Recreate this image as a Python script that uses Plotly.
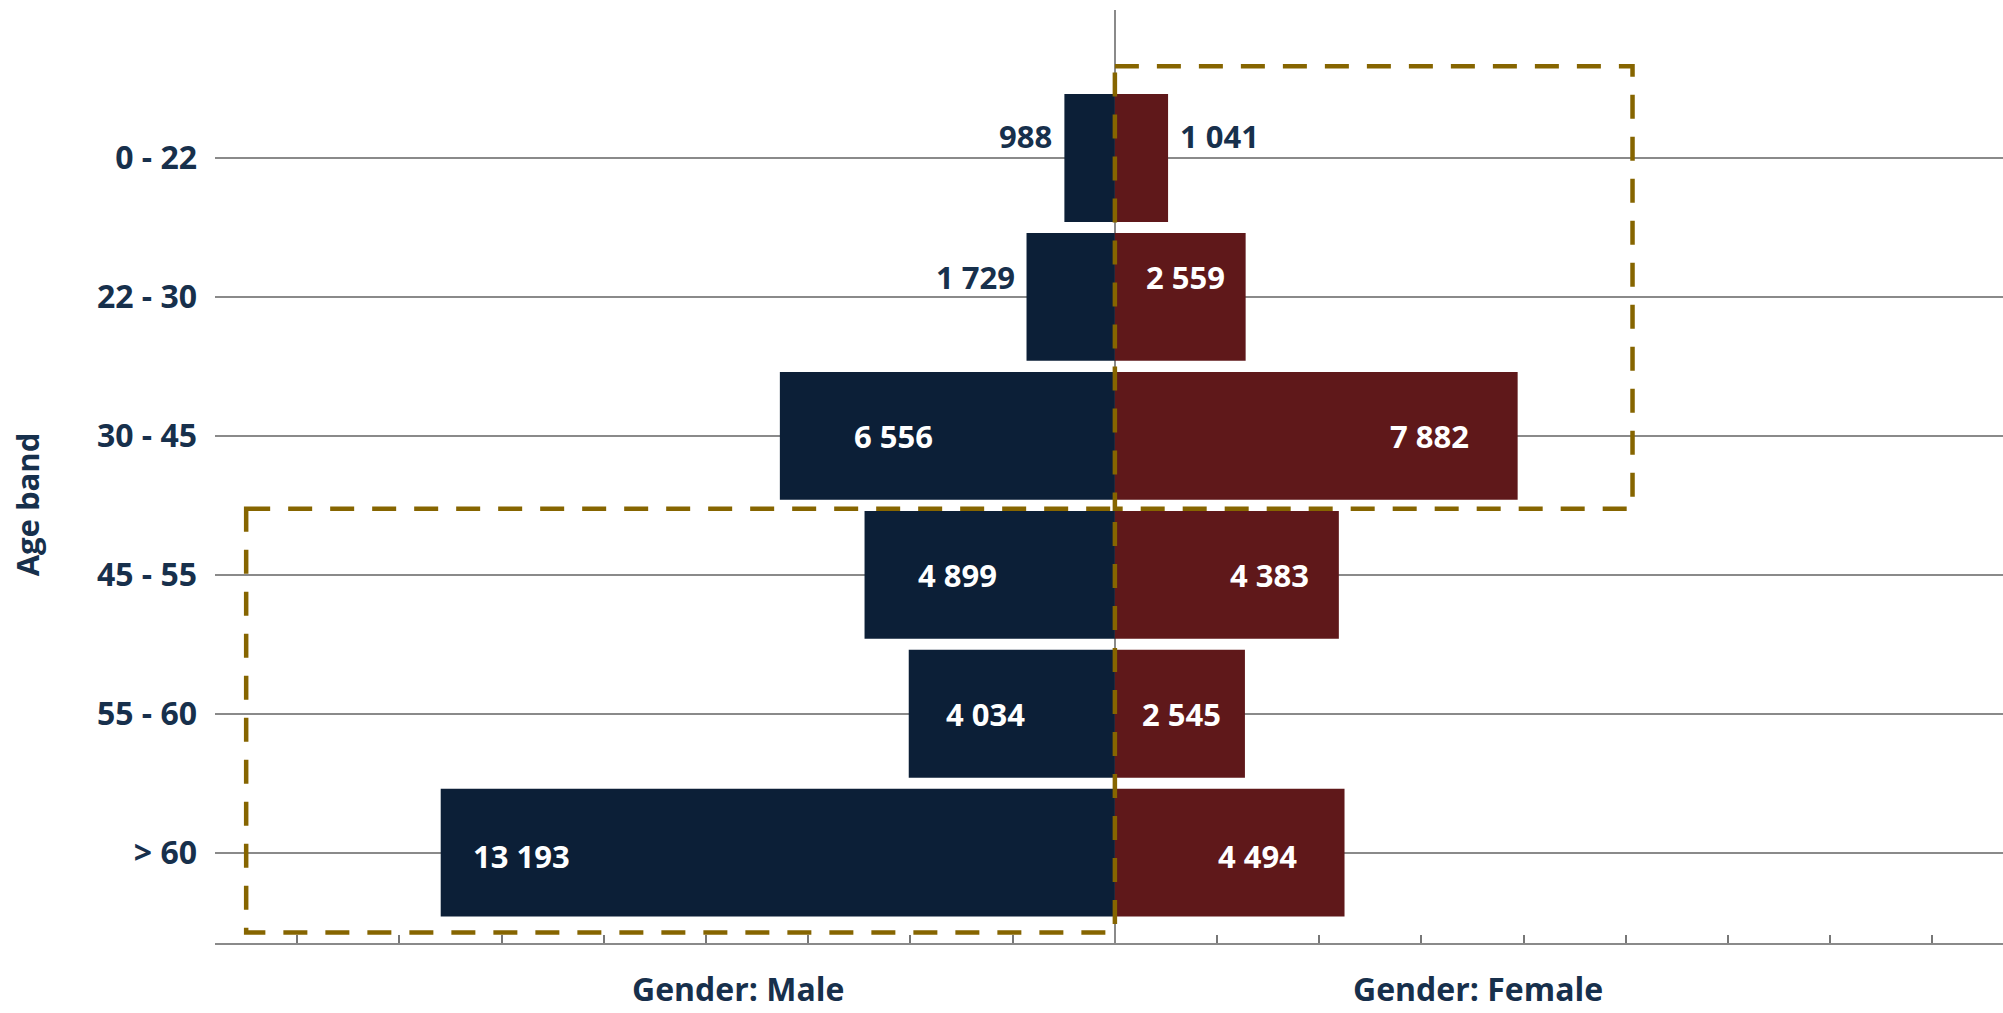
import plotly.graph_objects as go

# Headcount by age band and gender
age_bands = ["0 - 22", "22 - 30", "30 - 45", "45 - 55", "55 - 60", "> 60"]
male = [988, 1729, 6556, 4899, 4034, 13193]
female = [1041, 2559, 7882, 4383, 2545, 4494]

# Styling
NAVY = "#0C1F37"
MAROON = "#5F181A"
TEXT = "#17304C"
GOLD = "#866500"
GRID = "#8A8A8A"
FONT = "Open Sans"

# Where each value label sits along its bar: None = just outside the bar tip,
# otherwise a fraction of the bar length (inside, white text)
male_label_pos = [None, None, 0.66, 0.63, 0.63, 0.88]
female_label_pos = [None, 0.54, 0.78, 0.69, 0.51, 0.62]
label_lift = [22, 20, 0, 0, 0, -3]


def fmt(v):
    return f"{v:,}".replace(",", " ")


fig = go.Figure()
fig.add_trace(go.Bar(
    y=age_bands, x=[-v for v in male], orientation="h", name="Male",
    marker=dict(color=NAVY, line=dict(width=0)), width=0.92,
    hoverinfo="skip",
))
fig.add_trace(go.Bar(
    y=age_bands, x=female, orientation="h", name="Female",
    marker=dict(color=MAROON, line=dict(width=0)), width=0.92,
    hoverinfo="skip",
))

annotations = []
label_font = dict(family=FONT, size=31, weight="bold")


def add_labels(values, positions, sign):
    for i, (cat, v, pos) in enumerate(zip(age_bands, values, positions)):
        if pos is None:
            # small bars: label sits just past the bar tip
            annotations.append(dict(
                x=sign * v, y=cat, xref="x", yref="y", text=fmt(v),
                showarrow=False, xanchor="right" if sign < 0 else "left",
                xshift=10 * sign, yshift=label_lift[i],
                font=dict(label_font, color=TEXT),
            ))
        else:
            annotations.append(dict(
                x=sign * v * pos, y=cat, xref="x", yref="y", text=fmt(v),
                showarrow=False, xanchor="center", yshift=label_lift[i],
                font=dict(label_font, color="white"),
            ))


add_labels(male, male_label_pos, -1)
add_labels(female, female_label_pos, 1)

title_font = dict(family=FONT, size=32, weight="bold", color=TEXT)
annotations += [
    dict(text="Gender: Male", x=0.2925, y=-0.0725, xref="paper", yref="paper",
         showarrow=False, xanchor="center", yanchor="bottom", borderpad=0,
         font=title_font),
    dict(text="Gender: Female", x=0.7064, y=-0.0725, xref="paper", yref="paper",
         showarrow=False, xanchor="center", yanchor="bottom", borderpad=0,
         font=title_font),
    dict(text="Age band", x=-0.105, y=0.4705, xref="paper", yref="paper",
         showarrow=False, xanchor="center", yanchor="middle", textangle=-90,
         font=dict(title_font, size=31)),
]

# Highlight boxes: young female bands and older male bands
box_line = dict(color=GOLD, width=4.5, dash="24px,18px")
shapes = [
    dict(type="rect", xref="x", yref="y", x0=0, x1=10130, y0=-0.66, y1=2.525,
         line=box_line, fillcolor="rgba(0,0,0,0)", layer="above"),
    dict(type="rect", xref="x", yref="y", x0=-17000, x1=0, y0=2.525, y1=5.575,
         line=box_line, fillcolor="rgba(0,0,0,0)", layer="above"),
]

ticks = [s * k * 2000 for s in (-1, 1) for k in range(1, 9)]

fig.update_layout(
    width=2003, height=1013, autosize=False,
    margin=dict(l=215, r=0, t=10, b=70),
    paper_bgcolor="white", plot_bgcolor="white",
    barmode="relative", bargap=0.08, showlegend=False,
    annotations=annotations, shapes=shapes,
    font=dict(family=FONT, color=TEXT),
)
fig.update_xaxes(
    range=[-17610, 17380], showgrid=False,
    zeroline=True, zerolinecolor=GRID, zerolinewidth=1.5,
    showline=True, linecolor=GRID, linewidth=2,
    tickmode="array", tickvals=ticks, ticks="inside", ticklen=8,
    tickcolor="#777777", tickwidth=1.5, showticklabels=False,
    fixedrange=True,
)
fig.update_yaxes(
    type="category", categoryorder="array", categoryarray=age_bands,
    range=[5.65, -1.065], showgrid=True, gridcolor=GRID, gridwidth=2,
    zeroline=False, showline=False, ticks="",
    ticklabelstandoff=17,
    tickfont=dict(family=FONT, size=32, weight="bold", color=TEXT),
    fixedrange=True,
)

fig.write_html("out.html")
